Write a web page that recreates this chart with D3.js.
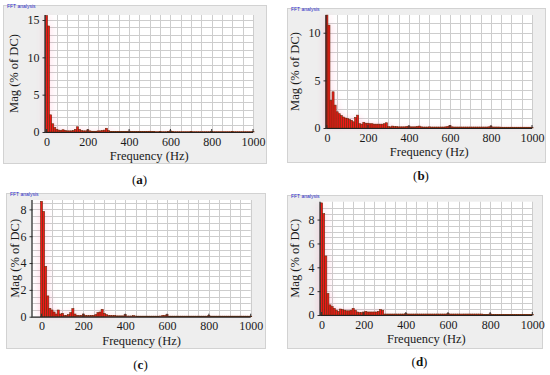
<!DOCTYPE html>
<html>
<head>
<meta charset="utf-8">
<script src="https://cdn.jsdelivr.net/npm/d3@7"></script>
<style>
  body { margin: 0; background: #fff; }
  svg { display: block; }
</style>
</head>
<body>
<script>
//harmonic frequencies (Hz), one bar each
var freqHz = [0, 10, 20, 30, 40, 50, 60, 70, 80, 90,
    100, 110, 120, 130, 140, 150, 160, 170, 180, 190,
    200, 210, 220, 230, 240, 250, 260, 270, 280, 290,
    300, 310, 320, 330, 340, 350, 360, 370, 380, 390,
    400, 410, 420, 430, 440, 450, 460, 470, 480, 490,
    500, 510, 520, 530, 540, 550, 560, 570, 580, 590,
    600, 610, 620, 630, 640, 650, 660, 670, 680, 690,
    700, 710, 720, 730, 740, 750, 760, 770, 780, 790,
    800, 810, 820, 830, 840, 850, 860, 870, 880, 890,
    900, 910, 920, 930, 940, 950, 960, 970, 980, 990, 1000];

//magnitudes (% of DC)
var magA = [15.6, 14.2, 2.3, 1.1, 0.6, 0.35, 0.25, 0.2, 0.3, 0.2,
    0.15, 0.15, 0.15, 0.2, 0.35, 0.7, 0.35, 0.2, 0.15, 0.15,
    0.3, 0.15, 0.1, 0.1, 0.1, 0.15, 0.15, 0.2, 0.25, 0.5,
    0.2, 0.08, 0.06, 0.06, 0.05, 0.06, 0.05, 0.05, 0.05, 0.06,
    0.12, 0.05, 0.05, 0.05, 0.05, 0.06, 0.05, 0.05, 0.05, 0.05,
    0.1, 0.05, 0.05, 0.04, 0.04, 0.05, 0.04, 0.04, 0.04, 0.05,
    0.15, 0.05, 0.04, 0.04, 0.04, 0.04, 0.04, 0.04, 0.04, 0.04,
    0.06, 0.04, 0.04, 0.04, 0.04, 0.04, 0.04, 0.04, 0.04, 0.04,
    0.1, 0.04, 0.04, 0.04, 0.04, 0.04, 0.04, 0.04, 0.04, 0.04,
    0.05, 0.04, 0.04, 0.04, 0.04, 0.04, 0.04, 0.04, 0.04, 0.04, 0.05];

var magB = [11.85, 10.8, 2.9, 3.8, 2.4, 1.7, 1.5, 1.3, 1.15, 1.05,
    1.0, 0.9, 0.8, 0.65, 1.1, 1.35, 0.45, 0.4, 0.6, 0.5,
    0.5, 0.45, 0.45, 0.4, 0.4, 0.4, 0.4, 0.4, 0.45, 0.55,
    0.15, 0.12, 0.2, 0.15, 0.15, 0.12, 0.12, 0.12, 0.12, 0.15,
    0.2, 0.12, 0.12, 0.12, 0.15, 0.2, 0.12, 0.1, 0.1, 0.1,
    0.12, 0.1, 0.1, 0.1, 0.1, 0.1, 0.1, 0.1, 0.12, 0.15,
    0.25, 0.12, 0.1, 0.1, 0.1, 0.1, 0.1, 0.1, 0.1, 0.1,
    0.1, 0.1, 0.1, 0.1, 0.1, 0.1, 0.1, 0.1, 0.1, 0.12,
    0.2, 0.1, 0.1, 0.1, 0.1, 0.08, 0.08, 0.08, 0.08, 0.08,
    0.08, 0.08, 0.08, 0.08, 0.08, 0.08, 0.08, 0.08, 0.08, 0.08, 0.08];

var magC = [8.6, 7.85, 3.75, 1.55, 0.62, 0.5, 0.35, 0.2, 0.5, 0.2,
    0.25, 0.1, 0.1, 0.15, 0.3, 0.6, 0.2, 0.1, 0.08, 0.1,
    0.2, 0.1, 0.08, 0.08, 0.1, 0.1, 0.15, 0.3, 0.35, 0.55,
    0.25, 0.15, 0.1, 0.1, 0.08, 0.1, 0.06, 0.06, 0.06, 0.06,
    0.15, 0.05, 0.05, 0.05, 0.08, 0.05, 0.04, 0.04, 0.04, 0.04,
    0.04, 0.04, 0.04, 0.04, 0.04, 0.04, 0.04, 0.05, 0.1, 0.08,
    0.15, 0.04, 0.04, 0.04, 0.04, 0.04, 0.04, 0.04, 0.04, 0.04,
    0.04, 0.04, 0.04, 0.04, 0.04, 0.04, 0.04, 0.04, 0.04, 0.04,
    0.1, 0.04, 0.04, 0.04, 0.04, 0.04, 0.04, 0.04, 0.04, 0.04,
    0.04, 0.04, 0.04, 0.04, 0.04, 0.04, 0.04, 0.04, 0.04, 0.04, 0.04];

var magD = [9.4, 8.5, 4.95, 1.8, 0.85, 0.7, 0.55, 0.4, 0.3, 0.5,
    0.45, 0.4, 0.35, 0.35, 0.4, 0.55, 0.4, 0.25, 0.2, 0.2,
    0.25, 0.3, 0.25, 0.25, 0.25, 0.25, 0.25, 0.3, 0.45, 0.4,
    0.08, 0.08, 0.08, 0.08, 0.08, 0.08, 0.08, 0.08, 0.08, 0.08,
    0.12, 0.08, 0.08, 0.08, 0.08, 0.08, 0.08, 0.08, 0.08, 0.08,
    0.08, 0.08, 0.08, 0.08, 0.08, 0.08, 0.08, 0.08, 0.08, 0.08,
    0.12, 0.08, 0.08, 0.08, 0.08, 0.08, 0.08, 0.08, 0.08, 0.08,
    0.08, 0.08, 0.08, 0.08, 0.08, 0.08, 0.08, 0.03, 0.03, 0.03,
    0.1, 0.03, 0.03, 0.03, 0.03, 0.03, 0.03, 0.03, 0.03, 0.03,
    0.03, 0.03, 0.03, 0.03, 0.03, 0.03, 0.03, 0.03, 0.03, 0.03, 0.03];

//tick labels
var xTicks = [0, 200, 400, 600, 800, 1000];
var yTicksA = [0, 5, 10, 15],
    yTicksB = [0, 5, 10],
    yTicksC = [0, 2, 4, 6, 8],
    yTicksD = [0, 2, 4, 6, 8];

var captions = ["a", "b", "c", "d"];

var serif = "Liberation Serif, Times New Roman, serif";

//panel layout: frame box, plot area, axis ranges
var panels = [
    {mag: magA, yTicks: yTicksA, yMax: 15.67, yGrid: 1, xMin: -5, cap: captions[0], ylabX: 14,
     box: [3, 5, 263, 158], plot: [45.5, 15, 253, 132], capY: 184},
    {mag: magB, yTicks: yTicksB, yMax: 11.86, yGrid: 1, xMin: -2, cap: captions[1], ylabX: 295,
     box: [287, 8, 258, 154], plot: [326.5, 15, 532, 128], capY: 180},
    {mag: magC, yTicks: yTicksC, yMax: 8.7, yGrid: 0.5, xMin: -43, cap: captions[2], ylabX: 15,
     box: [6, 193, 259, 155], plot: [32.5, 200, 250.7, 316.7], capY: 369},
    {mag: magD, yTicks: yTicksD, yMax: 9.5, yGrid: 0.5, xMin: -5, cap: captions[3], ylabX: 295,
     box: [287, 195, 255, 153], plot: [320.5, 201.7, 532.3, 315], capY: 366}
];

var svg = d3.select("body")
    .append("svg")
    .attr("width", 550)
    .attr("height", 375);

//soft pink bleed around the red bars, as in the reference image
var defs = svg.append("defs");
defs.append("filter")
    .attr("id", "bleed")
    .attr("x", "-20%").attr("y", "-20%")
    .attr("width", "140%").attr("height", "140%")
    .append("feGaussianBlur")
    .attr("stdDeviation", "4 2");

panels.forEach(function(p) {
    drawPanel(p);
});

function drawPanel(p) {
    var left = p.plot[0], top = p.plot[1], right = p.plot[2], bottom = p.plot[3];

    var x = d3.scaleLinear().domain([p.xMin, 1000]).range([left, right]);
    var y = d3.scaleLinear().domain([0, p.yMax]).range([bottom, top]);

    var g = svg.append("g").attr("class", "panel");

    //grey frame
    g.append("rect")
        .attr("x", p.box[0] + 0.5).attr("y", p.box[1] + 0.5)
        .attr("width", p.box[2]).attr("height", p.box[3])
        .attr("fill", "#eeeeee")
        .attr("stroke", "#d2d2d2");

    g.append("text")
        .attr("x", p.box[0] + 4).attr("y", p.box[1] + 2.5)
        .attr("font-family", "Liberation Sans, Arial, sans-serif")
        .attr("font-size", 5)
        .attr("fill", "#2a2ac8")
        .text("FFT analysis");

    //plot background
    g.append("rect")
        .attr("x", left).attr("y", top)
        .attr("width", right - left).attr("height", bottom - top)
        .attr("fill", "#fff");

    //grid
    var vGrid = d3.range(50, 1001, 50);
    g.append("g").selectAll("line")
        .data(vGrid).enter().append("line")
        .attr("x1", function(d) { return Math.round(x(d)) + 0.5; })
        .attr("x2", function(d) { return Math.round(x(d)) + 0.5; })
        .attr("y1", top).attr("y2", bottom)
        .attr("stroke", "#cdcdcd").attr("stroke-width", 1);

    var hGrid = d3.range(p.yGrid, p.yMax, p.yGrid);
    g.append("g").selectAll("line")
        .data(hGrid).enter().append("line")
        .attr("x1", left).attr("x2", right)
        .attr("y1", function(d) { return Math.round(y(d)) + 0.5; })
        .attr("y2", function(d) { return Math.round(y(d)) + 0.5; })
        .attr("stroke", "#cdcdcd").attr("stroke-width", 1);

    var bars = freqHz.map(function(f, k) { return {f: f, v: p.mag[k]}; });
    var half = 5;

    //pink bleed layer
    g.append("g")
        .attr("filter", "url(#bleed)")
        .attr("opacity", 0.35)
        .selectAll("rect")
        .data(bars).enter().append("rect")
        .attr("x", function(d) { return x(d.f - half); })
        .attr("width", function(d) { return x(d.f + half) - x(d.f - half); })
        .attr("y", function(d) { return y(d.v); })
        .attr("height", function(d) { return bottom - y(d.v); })
        .attr("fill", "#ff4d8a");

    //bars
    g.append("g").selectAll("rect")
        .data(bars).enter().append("rect")
        .attr("x", function(d) { return x(d.f - half); })
        .attr("width", function(d) { return x(d.f + half) - x(d.f - half); })
        .attr("y", function(d) { return y(d.v); })
        .attr("height", function(d) { return bottom - y(d.v); })
        .attr("fill", "#f01818")
        .attr("stroke", "#6a2c0c")
        .attr("stroke-width", 0.6);

    //axes
    var xAxis = d3.axisBottom(x).tickValues(xTicks).tickFormat(d3.format("d"))
        .tickSize(0).tickPadding(5);
    var gx = g.append("g")
        .attr("transform", "translate(0," + bottom + ")")
        .call(xAxis);
    gx.select(".domain").remove();
    gx.attr("font-family", serif);
    gx.selectAll("text")
        .attr("font-family", serif)
        .attr("font-size", 12)
        .attr("fill", "#1a1a1a");

    //inward tick marks on x
    g.append("g").selectAll("line")
        .data(xTicks).enter().append("line")
        .attr("x1", function(d) { return x(d); })
        .attr("x2", function(d) { return x(d); })
        .attr("y1", bottom).attr("y2", bottom - 3)
        .attr("stroke", "#333");

    var yAxis = d3.axisLeft(y).tickValues(p.yTicks).tickSize(3).tickPadding(3);
    var gy = g.append("g")
        .attr("transform", "translate(" + left + ",0)")
        .call(yAxis);
    gy.select(".domain").remove();
    gy.attr("font-family", serif);
    gy.selectAll("line").attr("stroke", "#333");
    gy.selectAll("text")
        .attr("font-family", serif)
        .attr("font-size", 12)
        .attr("fill", "#1a1a1a");

    g.append("line")
        .attr("x1", left).attr("x2", right)
        .attr("y1", bottom + 0.5).attr("y2", bottom + 0.5)
        .attr("stroke", "#222").attr("stroke-width", 1.2);
    g.append("line")
        .attr("x1", left - 0.5).attr("x2", left - 0.5)
        .attr("y1", top).attr("y2", bottom + 1)
        .attr("stroke", "#222").attr("stroke-width", 1.2);

    //axis titles
    g.append("text")
        .attr("x", (left + right) / 2)
        .attr("y", bottom + 28)
        .attr("text-anchor", "middle")
        .attr("font-family", serif)
        .attr("font-size", 12.5)
        .attr("fill", "#1a1a1a")
        .text("Frequency (Hz)");

    g.append("text")
        .attr("transform", "translate(" + (p.ylabX + 4) + "," + ((top + bottom) / 2) + ") rotate(-90)")
        .attr("text-anchor", "middle")
        .attr("font-family", serif)
        .attr("font-size", 12.5)
        .attr("fill", "#1a1a1a")
        .text("Mag (% of DC)");

    //caption (a), (b) ...
    var cap = g.append("text")
        .attr("x", p.box[0] + p.box[2] / 2 + 5)
        .attr("y", p.capY)
        .attr("text-anchor", "middle")
        .attr("font-family", serif)
        .attr("font-size", 13)
        .attr("fill", "#111");
    cap.append("tspan").text("(");
    cap.append("tspan").attr("font-weight", "bold").text(p.cap);
    cap.append("tspan").text(")");
}
</script>
</body>
</html>
